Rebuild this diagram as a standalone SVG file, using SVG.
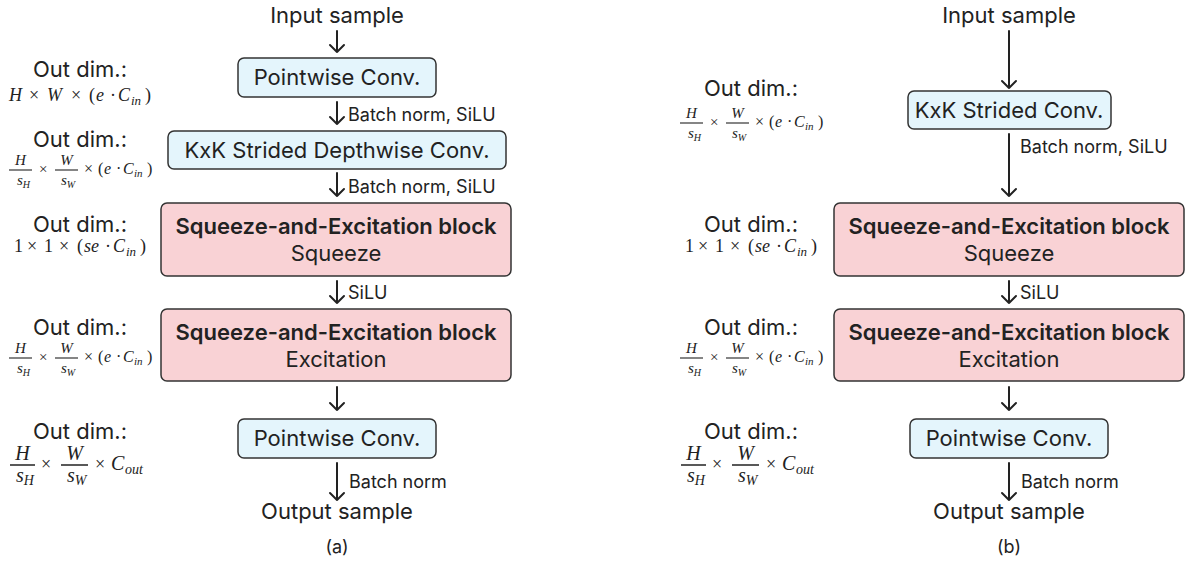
<svg xmlns="http://www.w3.org/2000/svg" width="1186" height="561" viewBox="0 0 1186 561">
<style>
.t{font-family:Inter,"Noto Sans",sans-serif;fill:#222;}
.big{font-size:22px;}
.box{font-size:22px;}
.bold{font-size:22px;font-weight:600;}
.lbl{font-size:18px;}
.od{font-size:22px;text-anchor:middle;}
.m{font-family:"Liberation Serif","Times New Roman",serif;font-style:italic;fill:#222;}
.r{font-style:normal;}
.blue{fill:#e4f5fc;stroke:#333;stroke-width:1.5;}
.pink{fill:#f9d2d5;stroke:#333;stroke-width:1.5;}
.arr{fill:none;stroke:#222;stroke-width:2;stroke-linecap:round;stroke-linejoin:round;}
.fl{stroke:#222;stroke-width:1.1;}
.fb{stroke:#222;stroke-width:1.5;}
</style>
<rect width="1186" height="561" fill="#fff"/>

<!-- Panel (a) -->
<g id="a-input"><text class="t big" x="337" y="23" text-anchor="middle">Input sample</text></g>
<g id="a-pw1"><rect class="blue" x="238" y="58" width="198" height="39" rx="6"/><text class="t box" x="337" y="85" text-anchor="middle">Pointwise Conv.</text></g>
<g id="a-dw"><rect class="blue" x="168" y="131" width="338" height="38" rx="6"/><text class="t box" x="337" y="158" text-anchor="middle">KxK Strided Depthwise Conv.</text></g>
<g id="a-se1"><rect class="pink" x="161" y="203" width="350" height="73" rx="6"/><text class="t bold" x="336" y="234" text-anchor="middle">Squeeze-and-Excitation block</text><text class="t box" x="336" y="261" text-anchor="middle">Squeeze</text></g>
<g id="a-se2"><rect class="pink" x="161" y="309" width="350" height="72" rx="6"/><text class="t bold" x="336" y="340" text-anchor="middle">Squeeze-and-Excitation block</text><text class="t box" x="336" y="367" text-anchor="middle">Excitation</text></g>
<g id="a-pw2"><rect class="blue" x="238" y="419" width="198" height="39" rx="6"/><text class="t box" x="337" y="446" text-anchor="middle">Pointwise Conv.</text></g>
<g id="a-output"><text class="t big" x="337" y="519" text-anchor="middle">Output sample</text></g>
<g id="a-caption"><text class="t" font-size="18" x="337" y="553" text-anchor="middle">(a)</text></g>

<!-- Panel (b) -->
<g id="b-input"><text class="t big" x="1009" y="23" text-anchor="middle">Input sample</text></g>
<g id="b-kxk"><rect class="blue" x="908" y="91" width="203" height="38" rx="6"/><text class="t box" x="1009" y="118" text-anchor="middle">KxK Strided Conv.</text></g>
<g id="b-se1"><rect class="pink" x="834" y="203" width="350" height="73" rx="6"/><text class="t bold" x="1009" y="234" text-anchor="middle">Squeeze-and-Excitation block</text><text class="t box" x="1009" y="261" text-anchor="middle">Squeeze</text></g>
<g id="b-se2"><rect class="pink" x="834" y="309" width="350" height="72" rx="6"/><text class="t bold" x="1009" y="340" text-anchor="middle">Squeeze-and-Excitation block</text><text class="t box" x="1009" y="367" text-anchor="middle">Excitation</text></g>
<g id="b-pw2"><rect class="blue" x="910" y="419" width="198" height="39" rx="6"/><text class="t box" x="1009" y="446" text-anchor="middle">Pointwise Conv.</text></g>
<g id="b-output"><text class="t big" x="1009" y="519" text-anchor="middle">Output sample</text></g>
<g id="b-caption"><text class="t" font-size="18" x="1009" y="553" text-anchor="middle">(b)</text></g>

<!-- Connectors -->
<g id="connectors">
<path class="arr" d="M337 31V52M330 45L337 52L344 45"/>
<path class="arr" d="M337 102V124M330 117L337 124L344 117"/>
<path class="arr" d="M337 173V196M330 189L337 196L344 189"/>
<path class="arr" d="M337 281V303M330 296L337 303L344 296"/>
<path class="arr" d="M337 387V410M330 403L337 410L344 403"/>
<path class="arr" d="M337 463V500M330 493L337 500L344 493"/>
<path class="arr" d="M1009 31V88M1002 81L1009 88L1016 81"/>
<path class="arr" d="M1009 134V196M1002 189L1009 196L1016 189"/>
<path class="arr" d="M1009 281V303M1002 296L1009 303L1016 296"/>
<path class="arr" d="M1009 387V410M1002 403L1009 410L1016 403"/>
<path class="arr" d="M1009 463V500M1002 493L1009 500L1016 493"/>
<text class="t lbl" x="348" y="121">Batch norm, SiLU</text>
<text class="t lbl" x="348" y="193">Batch norm, SiLU</text>
<text class="t lbl" x="348" y="299">SiLU</text>
<text class="t lbl" x="349" y="488">Batch norm</text>
<text class="t lbl" x="1020" y="153">Batch norm, SiLU</text>
<text class="t lbl" x="1020" y="299">SiLU</text>
<text class="t lbl" x="1021" y="488">Batch norm</text>
</g>

<!-- Out dim labels (a) -->
<g id="a-dim1"><text class="t od" x="80" y="77">Out dim.:</text>
<g transform="translate(9,101)"><text class="m" font-size="18" y="0"><tspan x="0">H</tspan><tspan class="r" x="20">×</tspan><tspan x="38">W</tspan><tspan class="r" x="62">×</tspan><tspan class="r" x="80">(</tspan><tspan x="87">e</tspan><tspan class="r" x="101">·</tspan><tspan x="109">C</tspan><tspan font-size="13" x="122" dy="4">in</tspan><tspan class="r" x="136" dy="-4">)</tspan></text></g>
</g>
<g id="a-dim2"><text class="t od" x="80" y="147">Out dim.:</text>
<g transform="translate(9,174)">
<text class="m" font-size="15" x="11.5" y="-9" text-anchor="middle">H</text><line class="fl" x1="0" y1="-4" x2="23" y2="-4"/><text class="m" font-size="15" x="8" y="11">s<tspan font-size="10" dy="3">H</tspan></text>
<text class="m r" font-size="15" x="30" y="0">×</text>
<text class="m" font-size="15" x="57.5" y="-9" text-anchor="middle">W</text><line class="fl" x1="46" y1="-4" x2="69" y2="-4"/><text class="m" font-size="15" x="52" y="11">s<tspan font-size="10" dy="3">W</tspan></text>
<text class="m" font-size="16" y="0"><tspan class="r" x="75">×</tspan><tspan class="r" x="89">(</tspan><tspan x="95">e</tspan><tspan class="r" x="107">·</tspan><tspan x="114">C</tspan><tspan font-size="11" x="125" dy="3">in</tspan><tspan class="r" x="138" dy="-3">)</tspan></text>
</g></g>
<g id="a-dim3"><text class="t od" x="80" y="232">Out dim.:</text>
<g transform="translate(14,252)"><text class="m r" font-size="18" y="0"><tspan x="0">1</tspan><tspan x="13">×</tspan><tspan x="30">1</tspan><tspan x="45">×</tspan><tspan x="63">(</tspan><tspan class="m" x="70">s</tspan><tspan class="m" x="77">e</tspan><tspan x="91">·</tspan><tspan class="m" x="99">C</tspan><tspan class="m" font-size="13" x="112" dy="4">in</tspan><tspan x="126" dy="-4">)</tspan></text></g>
</g>
<g id="a-dim4"><text class="t od" x="80" y="335">Out dim.:</text>
<g transform="translate(9,362)">
<text class="m" font-size="15" x="11.5" y="-9" text-anchor="middle">H</text><line class="fl" x1="0" y1="-4" x2="23" y2="-4"/><text class="m" font-size="15" x="8" y="11">s<tspan font-size="10" dy="3">H</tspan></text>
<text class="m r" font-size="15" x="30" y="0">×</text>
<text class="m" font-size="15" x="57.5" y="-9" text-anchor="middle">W</text><line class="fl" x1="46" y1="-4" x2="69" y2="-4"/><text class="m" font-size="15" x="52" y="11">s<tspan font-size="10" dy="3">W</tspan></text>
<text class="m" font-size="16" y="0"><tspan class="r" x="75">×</tspan><tspan class="r" x="89">(</tspan><tspan x="95">e</tspan><tspan class="r" x="107">·</tspan><tspan x="114">C</tspan><tspan font-size="11" x="125" dy="3">in</tspan><tspan class="r" x="138" dy="-3">)</tspan></text>
</g></g>
<g id="a-dim5"><text class="t od" x="80" y="439">Out dim.:</text>
<g transform="translate(10,468)">
<text class="m" font-size="20" x="12.5" y="-8" text-anchor="middle">H</text><line class="fb" x1="0" y1="-3" x2="25" y2="-3"/><text class="m" font-size="20" x="6" y="14">s<tspan font-size="14" dy="3">H</tspan></text>
<text class="m r" font-size="18" x="31" y="2">×</text>
<text class="m" font-size="20" x="64.5" y="-8" text-anchor="middle">W</text><line class="fb" x1="51" y1="-3" x2="78" y2="-3"/><text class="m" font-size="20" x="57" y="14">s<tspan font-size="14" dy="3">W</tspan></text>
<text class="m" font-size="20" y="2"><tspan class="r" font-size="18" x="85">×</tspan><tspan x="101">C</tspan><tspan font-size="14" x="115" dy="4">out</tspan></text>
</g></g>

<!-- Out dim labels (b) -->
<g id="b-dim1"><text class="t od" x="751" y="96">Out dim.:</text>
<g transform="translate(680,127)">
<text class="m" font-size="15" x="11.5" y="-9" text-anchor="middle">H</text><line class="fl" x1="0" y1="-4" x2="23" y2="-4"/><text class="m" font-size="15" x="8" y="11">s<tspan font-size="10" dy="3">H</tspan></text>
<text class="m r" font-size="15" x="30" y="0">×</text>
<text class="m" font-size="15" x="57.5" y="-9" text-anchor="middle">W</text><line class="fl" x1="46" y1="-4" x2="69" y2="-4"/><text class="m" font-size="15" x="52" y="11">s<tspan font-size="10" dy="3">W</tspan></text>
<text class="m" font-size="16" y="0"><tspan class="r" x="75">×</tspan><tspan class="r" x="89">(</tspan><tspan x="95">e</tspan><tspan class="r" x="107">·</tspan><tspan x="114">C</tspan><tspan font-size="11" x="125" dy="3">in</tspan><tspan class="r" x="138" dy="-3">)</tspan></text>
</g></g>
<g id="b-dim3"><text class="t od" x="751" y="232">Out dim.:</text>
<g transform="translate(685,252)"><text class="m r" font-size="18" y="0"><tspan x="0">1</tspan><tspan x="13">×</tspan><tspan x="30">1</tspan><tspan x="45">×</tspan><tspan x="63">(</tspan><tspan class="m" x="70">s</tspan><tspan class="m" x="77">e</tspan><tspan x="91">·</tspan><tspan class="m" x="99">C</tspan><tspan class="m" font-size="13" x="112" dy="4">in</tspan><tspan x="126" dy="-4">)</tspan></text></g>
</g>
<g id="b-dim4"><text class="t od" x="751" y="335">Out dim.:</text>
<g transform="translate(680,362)">
<text class="m" font-size="15" x="11.5" y="-9" text-anchor="middle">H</text><line class="fl" x1="0" y1="-4" x2="23" y2="-4"/><text class="m" font-size="15" x="8" y="11">s<tspan font-size="10" dy="3">H</tspan></text>
<text class="m r" font-size="15" x="30" y="0">×</text>
<text class="m" font-size="15" x="57.5" y="-9" text-anchor="middle">W</text><line class="fl" x1="46" y1="-4" x2="69" y2="-4"/><text class="m" font-size="15" x="52" y="11">s<tspan font-size="10" dy="3">W</tspan></text>
<text class="m" font-size="16" y="0"><tspan class="r" x="75">×</tspan><tspan class="r" x="89">(</tspan><tspan x="95">e</tspan><tspan class="r" x="107">·</tspan><tspan x="114">C</tspan><tspan font-size="11" x="125" dy="3">in</tspan><tspan class="r" x="138" dy="-3">)</tspan></text>
</g></g>
<g id="b-dim5"><text class="t od" x="751" y="439">Out dim.:</text>
<g transform="translate(681,468)">
<text class="m" font-size="20" x="12.5" y="-8" text-anchor="middle">H</text><line class="fb" x1="0" y1="-3" x2="25" y2="-3"/><text class="m" font-size="20" x="6" y="14">s<tspan font-size="14" dy="3">H</tspan></text>
<text class="m r" font-size="18" x="31" y="2">×</text>
<text class="m" font-size="20" x="64.5" y="-8" text-anchor="middle">W</text><line class="fb" x1="51" y1="-3" x2="78" y2="-3"/><text class="m" font-size="20" x="57" y="14">s<tspan font-size="14" dy="3">W</tspan></text>
<text class="m" font-size="20" y="2"><tspan class="r" font-size="18" x="85">×</tspan><tspan x="101">C</tspan><tspan font-size="14" x="115" dy="4">out</tspan></text>
</g></g>
</svg>
